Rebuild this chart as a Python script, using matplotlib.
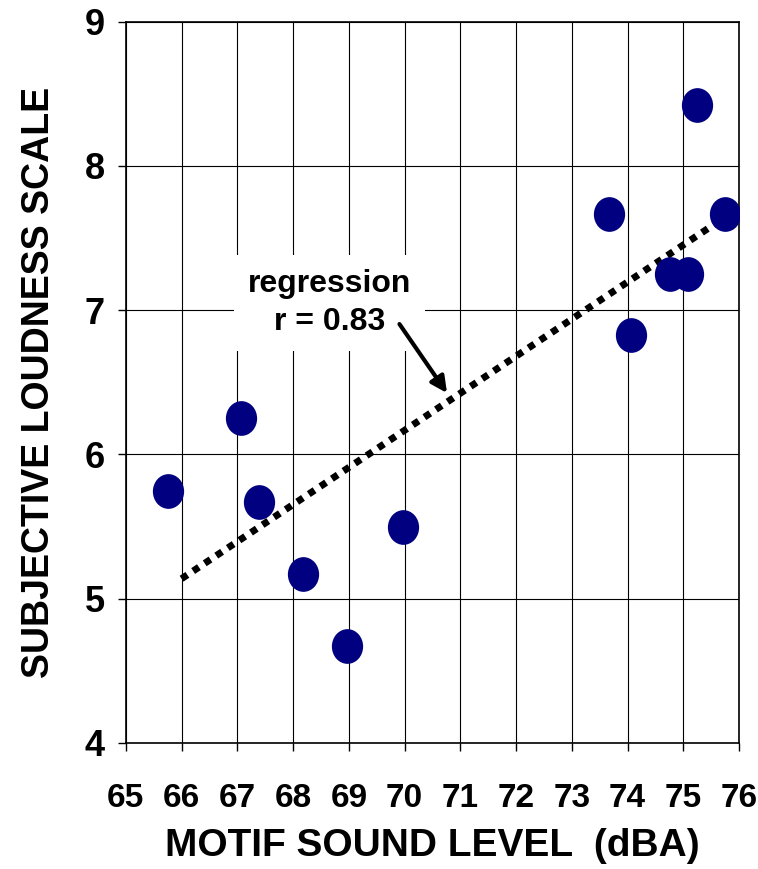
import matplotlib.pyplot as plt
from matplotlib.path import Path
import numpy as np

plt.rcParams['font.family'] = ['Liberation Sans', 'DejaVu Sans']
plt.rcParams['font.weight'] = 'bold'

# motif sound level (dBA) and subjective loudness rating
level = [65.75, 67.06, 67.39, 68.18, 68.97, 69.97,
         73.67, 74.07, 74.77, 75.09, 75.25, 75.75]
loudness = [5.75, 6.25, 5.67, 5.17, 4.67, 5.50,
            7.67, 6.83, 7.25, 7.25, 8.42, 7.67]
fit_range = [66, 76]
x_ticks = list(range(65, 77))
y_ticks = [4, 5, 6, 7, 8, 9]


def ellipse_marker():
    circ = Path.unit_circle()
    verts = circ.vertices * np.array([0.9, 1.0])
    return Path(verts, circ.codes)


def main():
    fig = plt.figure(figsize=(7.58, 8.69), dpi=100)
    ax = fig.add_axes([0.166, 0.145, 0.809, 0.830])

    ax.set_xlim(65, 76)
    ax.set_ylim(4, 9)
    ax.set_xticks(x_ticks)
    ax.set_yticks(y_ticks)
    ax.grid(True, color='black', linewidth=0.8)
    ax.set_axisbelow(True)
    for s in ax.spines.values():
        s.set_linewidth(1.2)
    ax.tick_params(axis='x', direction='out', length=6, width=1,
                   labelsize=24, pad=23)
    ax.tick_params(axis='y', direction='out', length=6, width=1,
                   labelsize=26, pad=9)

    # regression line
    slope, icpt = np.polyfit(level, loudness, 1)
    xs = np.array(fit_range)
    ax.plot(xs, slope * xs + icpt, color='black', linestyle=(0, (1, 1)),
            linewidth=5, zorder=3)

    ax.plot(level, loudness, linestyle='none', marker=ellipse_marker(),
            color='#000080', markersize=25, markeredgewidth=0, zorder=4)

    ax.text(68.66, 7.05, 'regression\nr = 0.83', ha='center', va='center',
            fontsize=23, fontweight='bold', linespacing=1.35,
            bbox=dict(facecolor='white', edgecolor='none', pad=10), zorder=5)
    ax.annotate('', xy=(70.79, 6.41), xytext=(69.88, 6.92),
                arrowprops=dict(arrowstyle='-|>', color='black', lw=3,
                                mutation_scale=24), zorder=5)

    ax.set_xlabel('MOTIF SOUND LEVEL  (dBA)', fontsize=28, fontweight='bold',
                  labelpad=10)
    ax.set_ylabel('SUBJECTIVE LOUDNESS SCALE', fontsize=27,
                  fontweight='bold', labelpad=20)

    fig.savefig('out.png', dpi=100)


main()
